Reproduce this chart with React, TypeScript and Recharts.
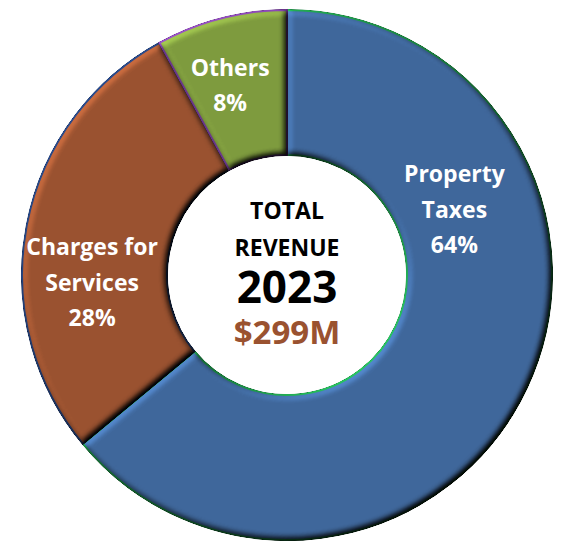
import React from 'react';
import { PieChart, Pie, Cell, Label } from 'recharts';

if (typeof document !== 'undefined') {
  document.body.style.margin = '0';
}

const categories = ['Property Taxes', 'Charges for Services', 'Others'];
const shares = [64, 28, 8];
const labelLines = [['Property', 'Taxes'], ['Charges for', 'Services'], ['Others']];
const centerTitle = ['TOTAL', 'REVENUE'];
const centerYear = '2023';
const centerTotal = '$299M';

const fills = ['#3F679B', '#9A5230', '#7E9B3E'];
const strokes = ['#1E9A4A', '#1F3A6E', '#7A3FA0'];
const labelPolar = [
  { angle: 21.6, r: 180 },
  { angle: 182, r: 195 },
  { angle: 106.6, r: 199 },
];

const data = categories.map((name, i) => ({ name, value: shares[i] }));

const FONT = '"Open Sans", Lato, sans-serif';
const CX = 287;
const CY = 275;

const renderLabel = (props: any) => {
  const { cx, cy, index, value } = props;
  const p = labelPolar[index];
  const rad = (p.angle * Math.PI) / 180;
  const x = cx + p.r * Math.cos(rad);
  const y = cy - p.r * Math.sin(rad);
  const lines = [...labelLines[index], `${value}%`];
  const lh = 35.5;
  const top = y - ((lines.length - 1) * lh) / 2;
  return (
    <text
      key={`lbl-${index}`}
      x={x}
      y={top}
      textAnchor="middle"
      fill="#FFFFFF"
      fontFamily={FONT}
      fontWeight={700}
      fontSize={23}
    >
      {lines.map((l, i) => (
        <tspan key={i} x={x} y={top + i * lh} dominantBaseline="central">
          {l}
        </tspan>
      ))}
    </text>
  );
};

const renderCenter = (props: any) => {
  const vb = props && props.viewBox ? props.viewBox : {};
  const cx = typeof vb.cx === 'number' ? vb.cx : CX;
  const cy = typeof vb.cy === 'number' ? vb.cy : CY;
  return (
    <g>
      <text x={cx} y={cy - 56} textAnchor="middle" fontFamily={FONT} fontWeight={700} fontSize={23} fill="#000">
        {centerTitle[0]}
      </text>
      <text x={cx} y={cy - 19} textAnchor="middle" fontFamily={FONT} fontWeight={700} fontSize={23} fill="#000">
        {centerTitle[1]}
      </text>
      <text x={cx} y={cy + 28} textAnchor="middle" fontFamily={FONT} fontWeight={700} fontSize={44} fill="#000">
        {centerYear}
      </text>
      <text x={cx} y={cy + 69} textAnchor="middle" fontFamily={FONT} fontWeight={700} fontSize={33} fill="#9A5230">
        {centerTotal}
      </text>
    </g>
  );
};

export default function App() {
  return (
    <div style={{ width: 564, height: 546, background: '#fff', position: 'relative' }}>
      <svg width={0} height={0} style={{ position: 'absolute' }}>
        <defs>
          <filter id="bevel" x="-5%" y="-5%" width="110%" height="110%" colorInterpolationFilters="sRGB">
            <feGaussianBlur in="SourceAlpha" stdDeviation="3.5" result="blur" />
            <feDiffuseLighting in="blur" surfaceScale="5" diffuseConstant="1" lightingColor="#ffffff" result="diff">
              <feDistantLight azimuth="225" elevation="50" />
            </feDiffuseLighting>
            <feComposite in="diff" in2="SourceAlpha" operator="in" result="diffOut" />
            <feComposite in="SourceGraphic" in2="diffOut" operator="arithmetic" k1="1.305" k2="0" k3="0" k4="0" />
          </filter>
        </defs>
      </svg>
      <PieChart width={564} height={546} margin={{ top: 0, right: 0, bottom: 0, left: 0 }}>
        <Pie
          data={data}
          dataKey="value"
          nameKey="name"
          cx={CX}
          cy={CY}
          innerRadius={120}
          outerRadius={265}
          startAngle={90}
          endAngle={-270}
          isAnimationActive={false}
          label={renderLabel}
          labelLine={false}
          strokeWidth={2}
        >
          {data.map((d, i) => (
            <Cell key={d.name} fill={fills[i]} stroke={strokes[i]} filter="url(#bevel)" />
          ))}
          <Label position="center" content={renderCenter} />
        </Pie>
      </PieChart>
    </div>
  );
}
